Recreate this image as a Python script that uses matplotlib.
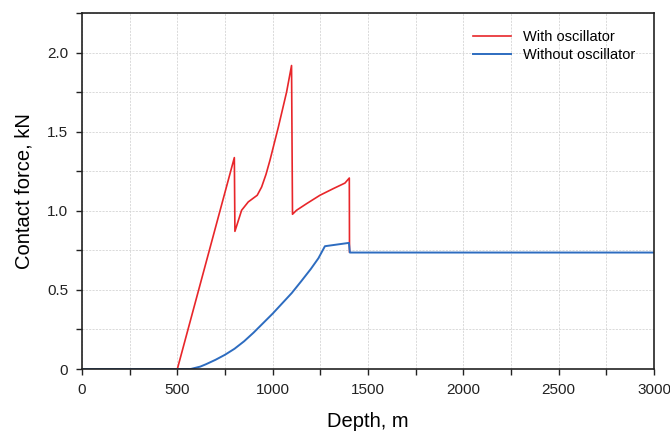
import matplotlib
matplotlib.use("Agg")
import matplotlib.pyplot as plt
from matplotlib.ticker import MultipleLocator, FixedFormatter, FixedLocator

plt.rcParams['font.family'] = ['Liberation Sans', 'DejaVu Sans']

# valeurs
depth_with = [0, 500, 799, 802, 837, 872, 919, 942, 965, 986, 1030, 1073, 1099,
              1104, 1125, 1178, 1248, 1318, 1379, 1402, 1403]
force_with = [0, 0, 1.336, 0.87, 1.003, 1.056, 1.098, 1.15, 1.23, 1.32, 1.53, 1.75, 1.918,
              0.978, 1.003, 1.045, 1.098, 1.14, 1.175, 1.207, 0.74]

depth_without = [0, 570, 620, 650, 700, 750, 800, 850, 900, 950, 1000, 1050, 1100,
                 1150, 1200, 1240, 1274, 1400, 1405, 3000]
force_without = [0, 0, 0.015, 0.03, 0.058, 0.09, 0.128, 0.175, 0.23, 0.29, 0.35, 0.415,
                 0.48, 0.555, 0.632, 0.70, 0.776, 0.797, 0.736, 0.736]

x_ticks = [0, 500, 1000, 1500, 2000, 2500, 3000]
y_ticks = [0, 0.5, 1.0, 1.5, 2.0]
y_labels = ["0", "0.5", "1.0", "1.5", "2.0"]

fig = plt.figure(figsize=(6.7, 4.37), dpi=100)
ax = fig.add_axes([0.1224, 0.1556, 0.8537, 0.8147])

ax.plot(depth_with, force_with, color='#e8262a', lw=1.2, label='With oscillator')
ax.plot(depth_without, force_without, color='#2d6cc0', lw=1.4, label='Without oscillator')

ax.set_xlim(0, 3000)
ax.set_ylim(0, 2.25)
ax.xaxis.set_major_locator(FixedLocator(x_ticks))
ax.xaxis.set_minor_locator(MultipleLocator(250))
ax.yaxis.set_major_locator(FixedLocator(y_ticks))
ax.yaxis.set_major_formatter(FixedFormatter(y_labels))
ax.yaxis.set_minor_locator(MultipleLocator(0.25))

ax.grid(True, which='both', color='#d4d4d4', ls=(0, (2.5, 1.5)), lw=0.6)
ax.set_axisbelow(True)
ax.tick_params(which='both', direction='out', length=4, width=1, labelsize=11,
               colors='#222222', pad=6)
for s in ax.spines.values():
    s.set_linewidth(1.2)
    s.set_color('#222222')

ax.set_xlabel('Depth, m', fontsize=14.5, labelpad=11)
ax.set_ylabel('Contact force, kN', fontsize=14.5, labelpad=10)

ax.legend(loc='upper right', frameon=False, fontsize=10.5, handlelength=2.6,
          bbox_to_anchor=(0.99, 0.99), labelspacing=0.3)

fig.savefig('out.png', dpi=100)
